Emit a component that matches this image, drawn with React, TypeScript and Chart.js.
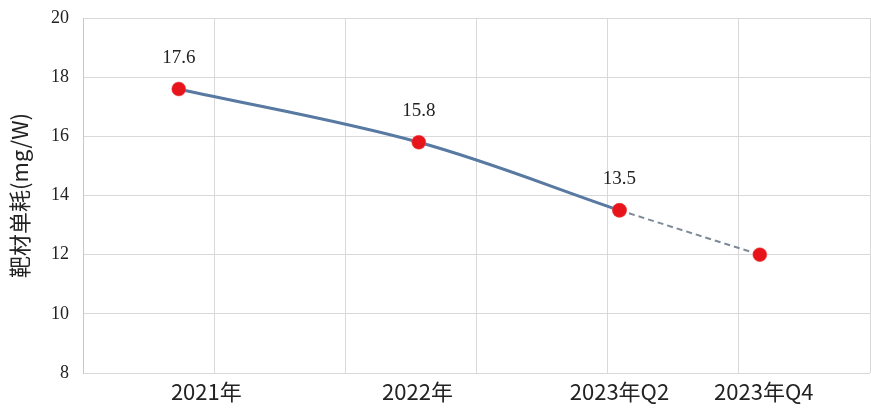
import React, { useEffect, useRef } from "react";
import { Chart, registerables } from "chart.js";

Chart.register(...registerables);

const categories = ["2021年", "2022年", "2023年Q2", "2023年Q4"];
const xPositions = [0.73, 2.56, 4.09, 5.16];
const labelPositions = [0.94, 2.55, 4.09, 5.19];
const values = [17.6, 15.8, 13.5, 12];
const labelledCount = 3;
const yTicks = [8, 10, 12, 14, 16, 18, 20];
const yTitle = "靶材单耗(mg/W)";

const solidPts = xPositions.slice(0, 3).map((x, i) => ({ x, y: values[i] }));
const dashPts = xPositions.slice(2).map((x, i) => ({ x, y: values[i + 2] }));

const valueLabelPlugin = {
  id: "valueLabels",
  afterDatasetsDraw(chart: any) {
    const { ctx } = chart;
    const xs = chart.scales.x;
    const ys = chart.scales.y;
    ctx.save();
    ctx.font = '19px "Liberation Serif", serif';
    ctx.fillStyle = "#222";
    ctx.textAlign = "center";
    ctx.textBaseline = "middle";
    for (let i = 0; i < labelledCount; i++) {
      const px = xs.getPixelForValue(xPositions[i]);
      const py = ys.getPixelForValue(values[i]);
      ctx.fillText(String(values[i]), px, py - 31);
    }
    ctx.restore();
  },
};

export default function App() {
  const ref = useRef<HTMLCanvasElement>(null);
  useEffect(() => {
    const chart = new Chart(ref.current!, {
      type: "scatter",
      data: {
        datasets: [
          {
            data: solidPts,
            showLine: true,
            borderColor: "#5879a1",
            borderWidth: 3,
            tension: 0.35,
            pointRadius: 7,
            pointBackgroundColor: "#e8141b",
            pointBorderColor: "rgba(240,80,80,0.5)",
            pointBorderWidth: 1,
            order: 1,
          },
          {
            data: dashPts,
            showLine: true,
            borderColor: "#7d8a98",
            borderWidth: 2,
            borderDash: [6, 4],
            tension: 0,
            pointRadius: 7,
            pointBackgroundColor: "#e8141b",
            pointBorderColor: "rgba(240,80,80,0.5)",
            pointBorderWidth: 1,
            order: 2,
          },
        ],
      },
      options: {
        animation: false,
        responsive: true,
        maintainAspectRatio: false,
        layout: { autoPadding: false, padding: { top: 18, right: 1, left: 0, bottom: 0 } },
        plugins: { legend: { display: false }, tooltip: { enabled: false } },
        scales: {
          x: {
            type: "linear",
            position: "bottom",
            min: 0,
            max: 6,
            weight: 2,
            afterBuildTicks: (s: any) => {
              s.ticks = [0, 1, 2, 3, 4, 5, 6].map((v) => ({ value: v }));
            },
            afterFit: (s: any) => {
              s.height = 0;
              s.paddingLeft = 0;
              s.paddingRight = 0;
            },
            ticks: { display: false },
            grid: { color: "#d9d9d9", lineWidth: 1, drawTicks: false },
            border: { color: "#c8c8c8" },
          },
          x2: {
            type: "linear",
            position: "bottom",
            min: 0,
            max: 6,
            weight: 1,
            afterBuildTicks: (s: any) => {
              s.ticks = labelPositions.map((v) => ({ value: v }));
            },
            afterFit: (s: any) => {
              s.height = 38;
              s.paddingLeft = 0;
              s.paddingRight = 0;
            },
            ticks: {
              autoSkip: false,
              maxRotation: 0,
              padding: 5,
              color: "#222",
              font: { family: '"Noto Sans CJK SC", sans-serif', size: 22 },
              callback: (_v: any, i: number) => categories[i],
            },
            grid: { display: false, drawTicks: false },
            border: { display: false },
          },
          y: {
            min: 8,
            max: 20,
            afterBuildTicks: (s: any) => {
              s.ticks = yTicks.map((v) => ({ value: v }));
            },
            afterFit: (s: any) => {
              s.width = 83;
              s.paddingTop = 0;
              s.paddingBottom = 0;
            },
            ticks: {
              padding: 14,
              color: "#222",
              font: { family: '"Liberation Serif", serif', size: 18 },
            },
            grid: { color: "#d9d9d9", lineWidth: 1, drawTicks: false },
            border: { color: "#c8c8c8" },
            title: {
              display: true,
              text: yTitle,
              color: "#222",
              font: { family: '"Noto Sans CJK SC", sans-serif', size: 22 },
              padding: { top: 6, bottom: 0 },
            },
          },
        },
      },
      plugins: [valueLabelPlugin],
    } as any);
    return () => chart.destroy();
  }, []);
  return (
    <div style={{ position: "fixed", left: 0, top: 0, width: 871, height: 411, background: "#fff" }}>
      <canvas ref={ref} />
    </div>
  );
}
